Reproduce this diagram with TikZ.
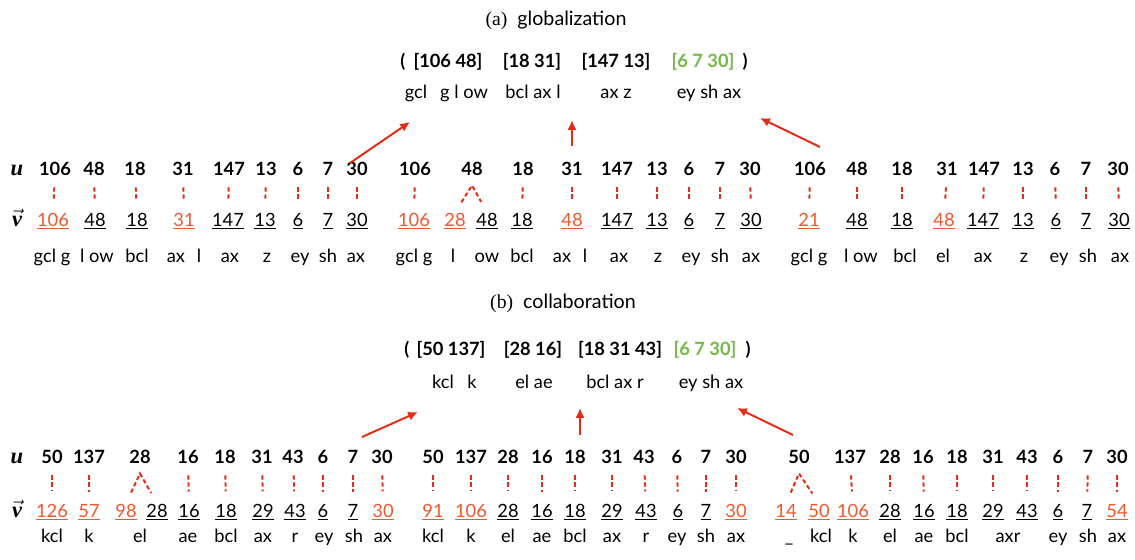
\documentclass[tikz,border=0pt]{standalone}
\usepackage{fontspec}
\usepackage{amsmath}
\setmainfont{Lato}
\newfontfamily\tagfont{Liberation Serif}
\usetikzlibrary{arrows.meta}
\definecolor{hiorange}{RGB}{238,88,46}
\definecolor{linkred}{RGB}{226,44,22}
\definecolor{segreen}{RGB}{114,184,69}

\begin{document}
\begin{tikzpicture}[x=0.025cm, y=-0.025cm,
    every node/.style={inner sep=0pt, anchor=base, font=\fontsize{13}{15}\selectfont},
    unum/.style={font=\fontsize{13}{15}\selectfont\bfseries},
    ttl/.style={font=\fontsize{14}{16}\selectfont},
    rowlbl/.style={font=\fontsize{16}{18}\selectfont\tagfont\bfseries\itshape},
    hi/.style={text=hiorange},
    link/.style={color=linkred, line width=1.4pt, dash pattern=on 3pt off 2pt,
      shorten <=0.3cm, shorten >=0.3cm},
    pointer/.style={color=linkred, line width=1.4pt, -{Latex[length=7pt,width=6.5pt]}}]
  \useasboundingbox (0,0) rectangle (1135,559);

  % (a) globalization
  \node[ttl] (ttla) at (556,25) {{\tagfont (a)}\ \ globalization};
  \node[unum] (ta0) at (403,67) {(};
  \node[unum] (ta1) at (448,67) {[106 48]};
  \node[unum] (ta2) at (532,67) {[18 31]};
  \node[unum] (ta3) at (616,67) {[147 13]};
  \node[unum, text=segreen] (ta4) at (703,67) {[6 7 30]};
  \node[unum] (ta5) at (745,67) {)};
  \node (tpa1) at (416,98) {gcl};
  \node (tpa2) at (464,98) {g l ow};
  \node (tpa3) at (533,98) {bcl ax l};
  \node (tpa4) at (616,98) {ax z};
  \node (tpa5) at (709,98) {ey sh ax};

  \node[rowlbl] (lua) at (17,175) {u};
  \node[rowlbl] (lva) at (17,226) {$\vec{\text{v}}$};

  % block a1
  \path (55,175) node[unum] (a1u1) {106} (94,175) node[unum] (a1u2) {48}
        (135,175) node[unum] (a1u3) {18} (183,175) node[unum] (a1u4) {31}
        (229,175) node[unum] (a1u5) {147} (266,175) node[unum] (a1u6) {13}
        (298,175) node[unum] (a1u7) {6} (328,175) node[unum] (a1u8) {7}
        (357,175) node[unum] (a1u9) {30};
  \path (53,226) node[hi] (a1v1) {\underline{106}} (95,226) node (a1v2) {\underline{48}}
        (137,226) node (a1v3) {\underline{18}} (184,226) node[hi] (a1v4) {\underline{31}}
        (228,226) node (a1v5) {\underline{147}} (265,226) node (a1v6) {\underline{13}}
        (298,226) node (a1v7) {\underline{6}} (328,226) node (a1v8) {\underline{7}}
        (357,226) node (a1v9) {\underline{30}};
  \path (52,262) node (a1p1) {gcl g} (97,262) node (a1p2) {l ow}
        (137,262) node (a1p3) {bcl} (176,262) node (a1p4) {ax}
        (199,262) node (a1p5) {l} (230,262) node (a1p6) {ax}
        (267,262) node (a1p7) {z} (300,262) node (a1p8) {ey}
        (328,262) node (a1p9) {sh} (356,262) node (a1p10) {ax};
  \path[link] (a1u1) edge (a1v1) (a1u2) edge (a1v2) (a1u3) edge (a1v3)
              (a1u4) edge (a1v4) (a1u5) edge (a1v5) (a1u6) edge (a1v6)
              (a1u7) edge (a1v7) (a1u8) edge (a1v8) (a1u9) edge (a1v9);

  % block a2
  \path (415,175) node[unum] (a2u1) {106} (472,175) node[unum] (a2u2) {48}
        (523,175) node[unum] (a2u3) {18} (572,175) node[unum] (a2u4) {31}
        (617,175) node[unum] (a2u5) {147} (657,175) node[unum] (a2u6) {13}
        (689,175) node[unum] (a2u7) {6} (720,175) node[unum] (a2u8) {7}
        (750,175) node[unum] (a2u9) {30};
  \path (414,226) node[hi] (a2v1) {\underline{106}} (455,226) node[hi] (a2v2a) {\underline{28}}
        (487,226) node (a2v2b) {\underline{48}} (522,226) node (a2v3) {\underline{18}}
        (572,226) node[hi] (a2v4) {\underline{48}} (617,226) node (a2v5) {\underline{147}}
        (657,226) node (a2v6) {\underline{13}} (689,226) node (a2v7) {\underline{6}}
        (720,226) node (a2v8) {\underline{7}} (751,226) node (a2v9) {\underline{30}};
  \path (414,262) node (a2p1) {gcl g} (453,262) node (a2p2) {l}
        (487,262) node (a2p3) {ow} (522,262) node (a2p4) {bcl}
        (562,262) node (a2p5) {ax} (585,262) node (a2p6) {l}
        (619,262) node (a2p7) {ax} (658,262) node (a2p8) {z}
        (691,262) node (a2p9) {ey} (720,262) node (a2p10) {sh}
        (751,262) node (a2p11) {ax};
  \coordinate (a2c2) at ([shift={(0,10)}]a2u2.south);
  \draw[link] (a2v2a.north) -- (a2c2) -- (a2v2b.north);
  \path[link] (a2u1) edge (a2v1) (a2u3) edge (a2v3) (a2u4) edge (a2v4)
              (a2u5) edge (a2v5) (a2u6) edge (a2v6) (a2u7) edge (a2v7)
              (a2u8) edge (a2v8) (a2u9) edge (a2v9);

  % block a3
  \path (810,175) node[unum] (a3u1) {106} (857,175) node[unum] (a3u2) {48}
        (902,175) node[unum] (a3u3) {18} (947,175) node[unum] (a3u4) {31}
        (984,175) node[unum] (a3u5) {147} (1023,175) node[unum] (a3u6) {13}
        (1055,175) node[unum] (a3u7) {6} (1086,175) node[unum] (a3u8) {7}
        (1118,175) node[unum] (a3u9) {30};
  \path (809,226) node[hi] (a3v1) {\underline{21}} (857,226) node (a3v2) {\underline{48}}
        (902,226) node (a3v3) {\underline{18}} (944,226) node[hi] (a3v4) {\underline{48}}
        (983,226) node (a3v5) {\underline{147}} (1023,226) node (a3v6) {\underline{13}}
        (1056,226) node (a3v7) {\underline{6}} (1086,226) node (a3v8) {\underline{7}}
        (1119,226) node (a3v9) {\underline{30}};
  \path (809,262) node (a3p1) {gcl g} (861,262) node (a3p2) {l ow}
        (905,262) node (a3p3) {bcl} (943,262) node (a3p4) {el}
        (983,262) node (a3p5) {ax} (1024,262) node (a3p6) {z}
        (1059,262) node (a3p7) {ey} (1088,262) node (a3p8) {sh}
        (1120,262) node (a3p9) {ax};
  \path[link] (a3u1) edge (a3v1) (a3u2) edge (a3v2) (a3u3) edge (a3v3)
              (a3u4) edge (a3v4) (a3u5) edge (a3v5) (a3u6) edge (a3v6)
              (a3u7) edge (a3v7) (a3u8) edge (a3v8) (a3u9) edge (a3v9);

  \coordinate (a1tail) at (350,163); \coordinate (a1head) at (410,122);
  \coordinate (a2tail) at (572,146); \coordinate (a2head) at (572,120);
  \coordinate (a3tail) at (820,147); \coordinate (a3head) at (760,118);
  \path[pointer] (a1tail) edge (a1head) (a2tail) edge (a2head) (a3tail) edge (a3head);

  % (b) collaboration
  \node[ttl] (ttlb) at (563,308) {{\tagfont (b)}\ \ collaboration};
  \node[unum] (tb0) at (407,355) {(};
  \node[unum] (tb1) at (451,355) {[50 137]};
  \node[unum] (tb2) at (533,355) {[28 16]};
  \node[unum] (tb3) at (620,355) {[18 31 43]};
  \node[unum, text=segreen] (tb4) at (705,355) {[6 7 30]};
  \node[unum] (tb5) at (748,355) {)};
  \node (tpb1) at (443,388) {kcl};
  \node (tpb2) at (472,388) {k};
  \node (tpb3) at (534,388) {el ae};
  \node (tpb4) at (615,388) {bcl ax r};
  \node (tpb5) at (711,388) {ey sh ax};

  \node[rowlbl] (lub) at (17,463) {u};
  \node[rowlbl] (lvb) at (17,517) {$\vec{\text{v}}$};

  % block b1
  \path (52,463) node[unum] (b1u1) {50} (89,463) node[unum] (b1u2) {137}
        (140,463) node[unum] (b1u3) {28} (188,463) node[unum] (b1u4) {16}
        (225,463) node[unum] (b1u5) {18} (262,463) node[unum] (b1u6) {31}
        (293,463) node[unum] (b1u7) {43} (323,463) node[unum] (b1u8) {6}
        (353,463) node[unum] (b1u9) {7} (382,463) node[unum] (b1u10) {30};
  \path (52,517) node[hi] (b1v1) {\underline{126}} (89,517) node[hi] (b1v2) {\underline{57}}
        (126,517) node[hi] (b1v3a) {\underline{98}} (157,517) node (b1v3b) {\underline{28}}
        (189,517) node (b1v4) {\underline{16}} (226,517) node (b1v5) {\underline{18}}
        (263,517) node (b1v6) {\underline{29}} (295,517) node (b1v7) {\underline{43}}
        (323,517) node (b1v8) {\underline{6}} (353,517) node (b1v9) {\underline{7}}
        (383,517) node[hi] (b1v10) {\underline{30}};
  \path (52,542) node (b1p1) {kcl} (89,542) node (b1p2) {k}
        (140,542) node (b1p3) {el} (188,542) node (b1p4) {ae}
        (226,542) node (b1p5) {bcl} (263,542) node (b1p6) {ax}
        (295,542) node (b1p7) {r} (324,542) node (b1p8) {ey}
        (354,542) node (b1p9) {sh} (383,542) node (b1p10) {ax};
  \coordinate (b1c3) at ([shift={(0,10)}]b1u3.south);
  \draw[link] (b1v3a.north) -- (b1c3) -- (b1v3b.north);
  \path[link] (b1u1) edge (b1v1) (b1u2) edge (b1v2) (b1u4) edge (b1v4)
              (b1u5) edge (b1v5) (b1u6) edge (b1v6) (b1u7) edge (b1v7)
              (b1u8) edge (b1v8) (b1u9) edge (b1v9) (b1u10) edge (b1v10);

  % block b2
  \path (433,463) node[unum] (b2u1) {50} (471,463) node[unum] (b2u2) {137}
        (508,463) node[unum] (b2u3) {28} (542,463) node[unum] (b2u4) {16}
        (575,463) node[unum] (b2u5) {18} (612,463) node[unum] (b2u6) {31}
        (644,463) node[unum] (b2u7) {43} (677,463) node[unum] (b2u8) {6}
        (706,463) node[unum] (b2u9) {7} (736,463) node[unum] (b2u10) {30};
  \path (433,517) node[hi] (b2v1) {\underline{91}} (471,517) node[hi] (b2v2) {\underline{106}}
        (508,517) node (b2v3) {\underline{28}} (542,517) node (b2v4) {\underline{16}}
        (575,517) node (b2v5) {\underline{18}} (612,517) node (b2v6) {\underline{29}}
        (646,517) node (b2v7) {\underline{43}} (678,517) node (b2v8) {\underline{6}}
        (706,517) node (b2v9) {\underline{7}} (736,517) node[hi] (b2v10) {\underline{30}};
  \path (433,542) node (b2p1) {kcl} (471,542) node (b2p2) {k}
        (508,542) node (b2p3) {el} (542,542) node (b2p4) {ae}
        (575,542) node (b2p5) {bcl} (612,542) node (b2p6) {ax}
        (646,542) node (b2p7) {r} (677,542) node (b2p8) {ey}
        (706,542) node (b2p9) {sh} (736,542) node (b2p10) {ax};
  \path[link] (b2u1) edge (b2v1) (b2u2) edge (b2v2) (b2u3) edge (b2v3)
              (b2u4) edge (b2v4) (b2u5) edge (b2v5) (b2u6) edge (b2v6)
              (b2u7) edge (b2v7) (b2u8) edge (b2v8) (b2u9) edge (b2v9)
              (b2u10) edge (b2v10);

  % block b3
  \path (799,463) node[unum] (b3u1) {50} (850,463) node[unum] (b3u2) {137}
        (890,463) node[unum] (b3u3) {28} (923,463) node[unum] (b3u4) {16}
        (957,463) node[unum] (b3u5) {18} (993,463) node[unum] (b3u6) {31}
        (1027,463) node[unum] (b3u7) {43} (1058,463) node[unum] (b3u8) {6}
        (1088,463) node[unum] (b3u9) {7} (1117,463) node[unum] (b3u10) {30};
  \path (786,517) node[hi] (b3v1a) {\underline{14}} (819,517) node[hi] (b3v1b) {\underline{50}}
        (853,517) node[hi] (b3v2) {\underline{106}} (890,517) node (b3v3) {\underline{28}}
        (924,517) node (b3v4) {\underline{16}} (957,517) node (b3v5) {\underline{18}}
        (993,517) node (b3v6) {\underline{29}} (1027,517) node (b3v7) {\underline{43}}
        (1058,517) node (b3v8) {\underline{6}} (1087,517) node (b3v9) {\underline{7}}
        (1117,517) node[hi] (b3v10) {\underline{54}};
  \path (789,542) node (b3p1) {\_} (821,542) node (b3p2) {kcl}
        (853,542) node (b3p3) {k} (890,542) node (b3p4) {el}
        (924,542) node (b3p5) {ae} (957,542) node (b3p6) {bcl}
        (1008,542) node (b3p7) {axr} (1058,542) node (b3p8) {ey}
        (1088,542) node (b3p9) {sh} (1117,542) node (b3p10) {ax};
  \coordinate (b3c1) at ([shift={(0,10)}]b3u1.south);
  \draw[link] (b3v1a.north) -- (b3c1) -- (b3v1b.north);
  \path[link] (b3u2) edge (b3v2) (b3u3) edge (b3v3) (b3u4) edge (b3v4)
              (b3u5) edge (b3v5) (b3u6) edge (b3v6) (b3u7) edge (b3v7)
              (b3u8) edge (b3v8) (b3u9) edge (b3v9) (b3u10) edge (b3v10);

  \coordinate (b1tail) at (362,437); \coordinate (b1head) at (418,412);
  \coordinate (b2tail) at (580,435); \coordinate (b2head) at (580,408);
  \coordinate (b3tail) at (793,435); \coordinate (b3head) at (737,408);
  \path[pointer] (b1tail) edge (b1head) (b2tail) edge (b2head) (b3tail) edge (b3head);
\end{tikzpicture}
\end{document}
